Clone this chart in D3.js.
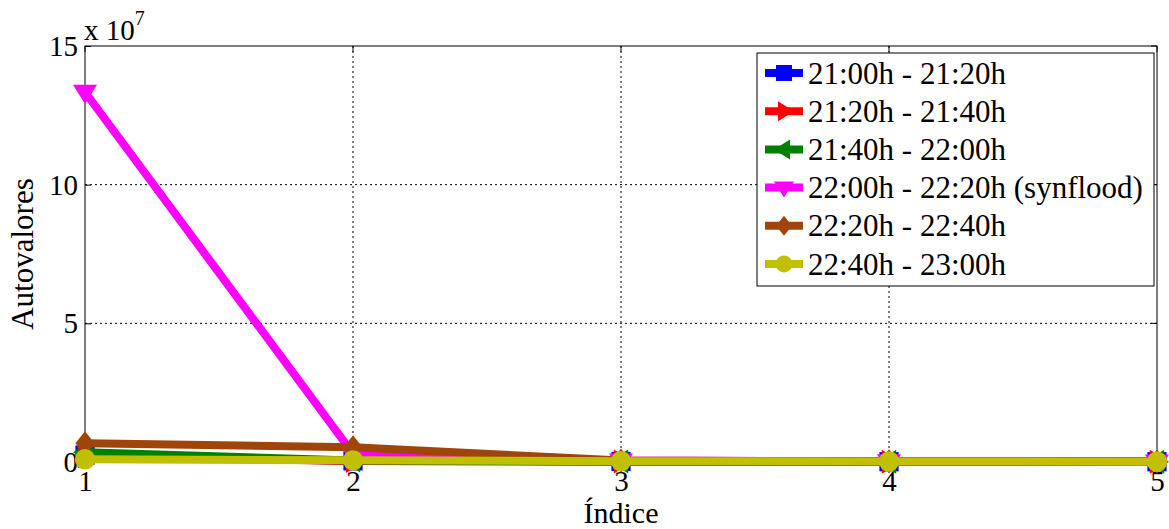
<!DOCTYPE html>
<html>
<head>
<meta charset="utf-8">
<script src="https://cdn.jsdelivr.net/npm/d3@7"></script>
<style>
  html, body { margin: 0; padding: 0; background: #fff; }
  svg { display: block; }
</style>
</head>
<body>
<svg id="chart" width="1169" height="529"></svg>
<script>
// Eigenvalue index
const indices = [1, 2, 3, 4, 5];
// Series labels (20-minute windows)
const seriesNames = [
  "21:00h - 21:20h",
  "21:20h - 21:40h",
  "21:40h - 22:00h",
  "22:00h - 22:20h (synflood)",
  "22:20h - 22:40h",
  "22:40h - 23:00h"
];
// Eigenvalues, in units of 1e7
const s2100 = [0.25, 0.04, 0.02, 0.01, 0.01];
const s2120 = [0.20, 0.04, 0.02, 0.01, 0.01];
const s2140 = [0.35, 0.05, 0.02, 0.01, 0.01];
const s2200 = [13.34, 0.30, 0.05, 0.02, 0.01];
const s2220 = [0.68, 0.53, 0.05, 0.03, 0.02];
const s2240 = [0.10, 0.06, 0.03, 0.02, 0.01];
const seriesValues = [s2100, s2120, s2140, s2200, s2220, s2240];
const seriesColors = ["#0000ff", "#ff0000", "#008000", "#ff00ff", "#a0450a", "#c0c000"];
const seriesMarkers = ["square", "right", "left", "down", "diamond", "circle"];
const yTicks = [0, 5, 10, 15];

const FONT = "'Liberation Serif', 'Times New Roman', serif";
const svg = d3.select("#chart");
const m = { left: 85, right: 1157, top: 46, bottom: 462 };

const x = d3.scaleLinear().domain([1, 5]).range([m.left, m.right]);
const y = d3.scaleLinear().domain([0, 15]).range([m.bottom, m.top]);

// Grid lines
const grid = svg.append("g");
grid.selectAll("line.gx").data(indices.slice(1, -1)).enter().append("line")
  .attr("x1", d => x(d)).attr("x2", d => x(d))
  .attr("y1", m.top).attr("y2", m.bottom)
  .attr("stroke", "#000").attr("stroke-width", 1).attr("stroke-dasharray", "2,3");
grid.selectAll("line.gy").data(yTicks.slice(1, -1)).enter().append("line")
  .attr("x1", m.left).attr("x2", m.right)
  .attr("y1", d => y(d)).attr("y2", d => y(d))
  .attr("stroke", "#000").attr("stroke-width", 1).attr("stroke-dasharray", "2,3");

// Axes box
svg.append("rect")
  .attr("x", m.left).attr("y", m.top)
  .attr("width", m.right - m.left).attr("height", m.bottom - m.top)
  .attr("fill", "none").attr("stroke", "#000").attr("stroke-width", 1);

// Tick marks and labels via d3 axes
const xAxis = d3.axisBottom(x).tickValues(indices).tickSize(-6).tickFormat(d3.format("d"));
const yAxis = d3.axisLeft(y).tickValues(yTicks).tickSize(-6).tickFormat(d3.format("d"));

const gx = svg.append("g").attr("transform", `translate(0,${m.bottom})`).call(xAxis)
  .attr("font-family", null).attr("font-size", null);
gx.select(".domain").remove();
gx.selectAll("text").style("font-family", FONT).style("font-size", "29px").attr("fill", "#000")
  .attr("y", 29).attr("dy", 0);
gx.selectAll("line").attr("stroke", "#000");

const gy = svg.append("g").attr("transform", `translate(${m.left},0)`).call(yAxis)
  .attr("font-family", null).attr("font-size", null);
gy.select(".domain").remove();
gy.selectAll("text").style("font-family", FONT).style("font-size", "29px").attr("fill", "#000")
  .attr("x", -7).attr("dy", "0.33em");
gy.selectAll("line").attr("stroke", "#000");

// Mirrored ticks on top and right edges
svg.append("g").selectAll("line").data(indices).enter().append("line")
  .attr("x1", d => x(d)).attr("x2", d => x(d))
  .attr("y1", m.top).attr("y2", m.top + 6).attr("stroke", "#000");
svg.append("g").selectAll("line").data(yTicks).enter().append("line")
  .attr("x1", m.right - 6).attr("x2", m.right)
  .attr("y1", d => y(d)).attr("y2", d => y(d)).attr("stroke", "#000");

// Exponent label
const expo = svg.append("text").attr("x", m.left - 1).attr("y", 40)
  .style("font-family", FONT).style("font-size", "29px").attr("fill", "#000");
expo.append("tspan").text("x 10");
expo.append("tspan").attr("dy", -15).style("font-size", "20px").text("7");

// Axis titles
svg.append("text").attr("x", x(3)).attr("y", 523)
  .attr("text-anchor", "middle").style("font-family", FONT).style("font-size", "30px").text("Índice");
svg.append("text").attr("transform", `translate(33,${(m.top + m.bottom) / 2}) rotate(-90)`)
  .attr("text-anchor", "middle").style("font-family", FONT).style("font-size", "31px").text("Autovalores");

// Marker shapes
function markerPath(type, cx, cy, r) {
  switch (type) {
    case "square": return `M${cx - r * 0.8},${cy - r * 0.8}h${1.6 * r}v${1.6 * r}h${-1.6 * r}Z`;
    case "right": return `M${cx + r},${cy}L${cx - r * 0.6},${cy - r}L${cx - r * 0.6},${cy + r}Z`;
    case "left": return `M${cx - r},${cy}L${cx + r * 0.6},${cy - r}L${cx + r * 0.6},${cy + r}Z`;
    case "down": return `M${cx},${cy + r}L${cx - r},${cy - r * 0.6}L${cx + r},${cy - r * 0.6}Z`;
    case "diamond": return `M${cx},${cy - r}L${cx + r * 0.8},${cy}L${cx},${cy + r}L${cx - r * 0.8},${cy}Z`;
    case "circle": return `M${cx - r * 0.85},${cy}a${r * 0.85},${r * 0.85} 0 1,0 ${1.7 * r},0a${r * 0.85},${r * 0.85} 0 1,0 ${-1.7 * r},0Z`;
  }
}

const line = d3.line().x((d, i) => x(indices[i])).y(d => y(d));
const plot = svg.append("g");
seriesValues.forEach((vals, k) => {
  const g = plot.append("g");
  g.append("path").datum(vals).attr("d", line)
    .attr("fill", "none").attr("stroke", seriesColors[k]).attr("stroke-width", 8)
    .attr("stroke-linejoin", "round");
  g.selectAll("path.mk").data(vals).enter().append("path")
    .attr("class", "mk")
    .attr("d", (d, i) => markerPath(seriesMarkers[k], x(indices[i]), y(d), 12))
    .attr("fill", seriesColors[k]);
});

// Legend
const lg = svg.append("g");
const lx = 757, ly = 53, lw = 397, lh = 233;
lg.append("rect").attr("x", lx).attr("y", ly).attr("width", lw).attr("height", lh)
  .attr("fill", "#fff").attr("stroke", "#000").attr("stroke-width", 1);
seriesNames.forEach((name, k) => {
  const cy = ly + 20 + k * 38.2;
  lg.append("line").attr("x1", lx + 8).attr("x2", lx + 46).attr("y1", cy).attr("y2", cy)
    .attr("stroke", seriesColors[k]).attr("stroke-width", 8);
  lg.append("path").attr("d", markerPath(seriesMarkers[k], lx + 27, cy, 10)).attr("fill", seriesColors[k]);
  lg.append("text").attr("x", lx + 51).attr("y", cy).attr("dy", "0.34em")
    .style("font-family", FONT).style("font-size", "31px").attr("fill", "#000").text(name);
});
</script>
</body>
</html>
